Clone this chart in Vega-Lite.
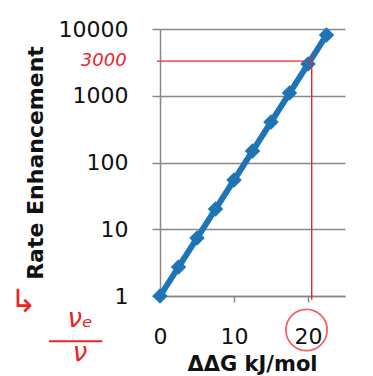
{
  "$schema": "https://vega.github.io/schema/vega-lite/v6.json",
  "autosize": "none",
  "width": 185,
  "height": 267,
  "padding": {"left": 160, "top": 29, "right": 28, "bottom": 80},
  "background": "white",
  "config": {"view": {"stroke": null}, "font": "DejaVu Sans"},
  "datasets": {
    "pts": [
      {"dg": 0, "rate": 1},
      {"dg": 2.5, "rate": 2.718},
      {"dg": 5, "rate": 7.389},
      {"dg": 7.5, "rate": 20.09},
      {"dg": 10, "rate": 54.6},
      {"dg": 12.5, "rate": 148.4},
      {"dg": 15, "rate": 403.4},
      {"dg": 17.5, "rate": 1096.6},
      {"dg": 20, "rate": 2981},
      {"dg": 22.5, "rate": 8103}
    ],
    "redlines": [
      {"x1": -0.4, "x2": 19.8, "y1": 3300, "y2": 3300},
      {"x1": 20.5, "x2": 20.5, "y1": 0.88, "y2": 4100}
    ],
    "notes": [
      {"x": -7.6, "y": 3300, "t": "3000", "s": 18},
      {"x": -10.8, "y": 0.46, "t": "νₑ", "s": 26},
      {"x": -10.8, "y": 0.14, "t": "ν", "s": 26},
      {"x": -18.5, "y": 0.8, "t": "↳", "s": 32}
    ]
  },
  "layer": [
    {
      "data": {"name": "pts"},
      "mark": {"type": "line", "color": "#1f74b6", "strokeWidth": 6, "clip": false},
      "encoding": {
        "x": {
          "field": "dg", "type": "quantitative",
          "scale": {"domain": [0, 25], "nice": false, "zero": false},
          "axis": {
            "values": [0, 5, 10, 15, 20, 25],
            "labelExpr": "datum.value % 10 === 0 ? datum.label : ''",
            "labelFlush": false,
            "title": "ΔΔG kJ/mol",
            "titleFont": "DejaVu Sans", "titleFontSize": 21, "titleFontWeight": "bold", "titleColor": "#111",
            "titleY": 74, "titleBaseline": "alphabetic", "titleX": 92,
            "labelFont": "DejaVu Sans", "labelFontSize": 22, "labelColor": "#111", "labelPadding": 24,
            "tickSize": 6, "tickColor": "#888", "domainColor": "#888", "domainWidth": 1.5, "tickWidth": 1.5,
            "grid": false
          }
        },
        "y": {
          "field": "rate", "type": "quantitative",
          "scale": {"type": "log", "domain": [1, 10000], "nice": false},
          "axis": {
            "values": [1, 10, 100, 1000, 10000],
            "format": "d",
            "title": "Rate Enhancement",
            "titleFont": "DejaVu Sans", "titleFontSize": 22, "titleFontWeight": "bold", "titleColor": "#111",
            "titlePadding": 11,
            "labelFont": "DejaVu Sans", "labelFontSize": 22, "labelColor": "#111", "labelPadding": 24,
            "tickSize": 8, "tickColor": "#888", "domainColor": "#888", "domainWidth": 1.5, "tickWidth": 1.5,
            "grid": true, "gridColor": "#888", "gridWidth": 1.5
          }
        }
      }
    },
    {
      "data": {"name": "pts"},
      "mark": {"type": "point", "shape": "diamond", "filled": true, "color": "#1f74b6", "size": 240, "opacity": 1, "clip": false},
      "encoding": {
        "x": {"field": "dg", "type": "quantitative"},
        "y": {"field": "rate", "type": "quantitative"}
      }
    },
    {
      "data": {"name": "redlines"},
      "mark": {"type": "rule", "color": "#e8262a", "strokeWidth": 1.4, "clip": false},
      "encoding": {
        "x": {"field": "x1", "type": "quantitative"},
        "x2": {"field": "x2"},
        "y": {"field": "y1", "type": "quantitative"},
        "y2": {"field": "y2"}
      }
    },
    {
      "data": {"values": [{"x": 19.8, "y": 0.31}]},
      "mark": {"type": "point", "shape": "circle", "filled": false, "color": "#e8262a", "strokeWidth": 1.8, "size": 1700, "clip": false},
      "encoding": {
        "x": {"field": "x", "type": "quantitative"},
        "y": {"field": "y", "type": "quantitative"}
      }
    },
    {
      "data": {"values": [{"x1": -15, "x2": -7.8, "y": 0.21}]},
      "mark": {"type": "rule", "color": "#e8262a", "strokeWidth": 1.8, "clip": false},
      "encoding": {
        "x": {"field": "x1", "type": "quantitative"},
        "x2": {"field": "x2"},
        "y": {"field": "y", "type": "quantitative"}
      }
    },
    {
      "data": {"name": "notes"},
      "mark": {"type": "text", "color": "#e8262a", "font": "DejaVu Sans", "fontStyle": "italic", "align": "center", "baseline": "middle", "clip": false},
      "encoding": {
        "x": {"field": "x", "type": "quantitative"},
        "y": {"field": "y", "type": "quantitative"},
        "text": {"field": "t"},
        "size": {"field": "s", "type": "quantitative", "scale": null}
      }
    }
  ]
}
